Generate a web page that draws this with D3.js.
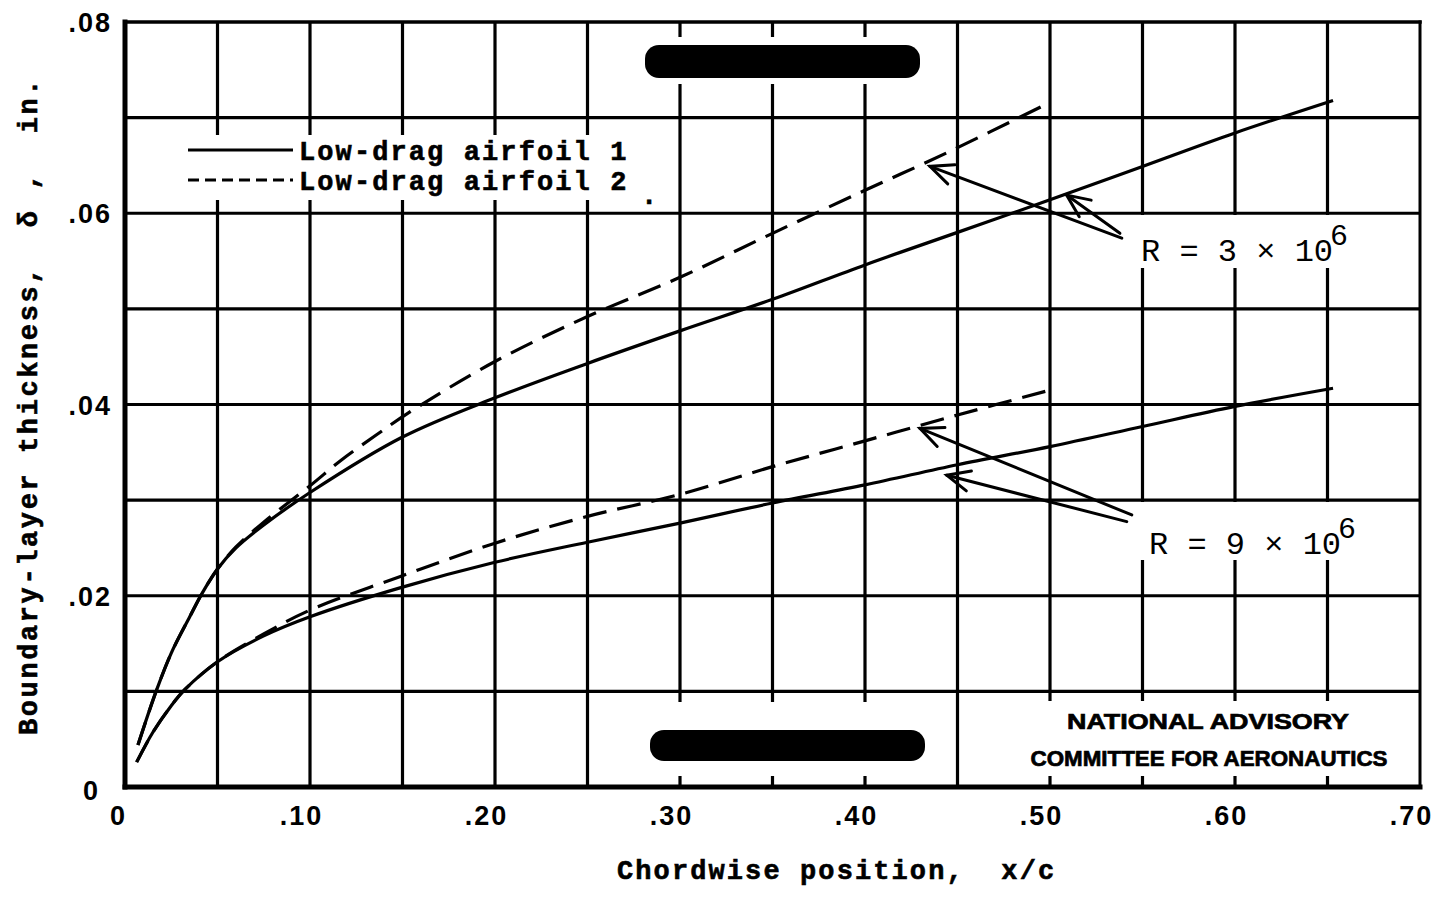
<!DOCTYPE html>
<html>
<head>
<meta charset="utf-8">
<script src="https://cdn.jsdelivr.net/npm/d3@7"></script>
<style>
  html, body { margin: 0; padding: 0; background: #fff; }
  svg { display: block; }
  .mono { font-family: 'Liberation Mono', 'DejaVu Sans Mono', monospace; white-space: pre; }
</style>
</head>
<body>
<script>
// Boundary-layer thickness along the chord for two low-drag airfoils at two Reynolds numbers.

// Axis ticks and labels
const xTicks = [0, 0.1, 0.2, 0.3, 0.4, 0.5, 0.6, 0.7];
const xTickLabels = ["0", ".10", ".20", ".30", ".40", ".50", ".60", ".70"];
const yTicks = [0, 0.02, 0.04, 0.06, 0.08];
const yTickLabels = ["0", ".02", ".04", ".06", ".08"];
const gridX = [0.05, 0.1, 0.15, 0.2, 0.25, 0.3, 0.35, 0.4, 0.45, 0.5, 0.55, 0.6, 0.65];
const gridY = [0.01, 0.02, 0.03, 0.04, 0.05, 0.06, 0.07];

// Airfoil 1, R = 3 x 10^6 (solid)
const xA1R3 = [0.007, 0.017, 0.025, 0.035, 0.0415, 0.05, 0.06, 0.075, 0.1, 0.15, 0.2, 0.25, 0.3, 0.35, 0.4, 0.45, 0.5, 0.55, 0.6, 0.653];
const yA1R3 = [0.0044, 0.0101, 0.0140, 0.0178, 0.0202, 0.0228, 0.0250, 0.0274, 0.0308, 0.0366, 0.0407, 0.0443, 0.0477, 0.0510, 0.0546, 0.0580, 0.0614, 0.0649, 0.0684, 0.0718];
// Airfoil 2, R = 3 x 10^6 (dashed)
const xA2R3 = [0.007, 0.017, 0.025, 0.035, 0.0415, 0.05, 0.06, 0.075, 0.1, 0.117, 0.135, 0.153, 0.2, 0.25, 0.3, 0.35, 0.4, 0.444, 0.5];
const yA2R3 = [0.0044, 0.0101, 0.0140, 0.0178, 0.0202, 0.0228, 0.0251, 0.0277, 0.0315, 0.0342, 0.0367, 0.0391, 0.0445, 0.0492, 0.0533, 0.0579, 0.0624, 0.0663, 0.0716];
// Airfoil 1, R = 9 x 10^6 (solid)
const xA1R9 = [0.0063, 0.015, 0.025, 0.0324, 0.05, 0.075, 0.1, 0.15, 0.2, 0.25, 0.3, 0.35, 0.4, 0.45, 0.5, 0.55, 0.6, 0.653];
const yA1R9 = [0.0026, 0.0057, 0.0085, 0.0102, 0.0131, 0.0158, 0.0178, 0.0209, 0.0235, 0.0256, 0.0276, 0.0297, 0.0316, 0.0337, 0.0356, 0.0377, 0.0398, 0.0417];
// Airfoil 2, R = 9 x 10^6 (dashed)
const xA2R9 = [0.0063, 0.015, 0.025, 0.0324, 0.05, 0.075, 0.1, 0.15, 0.2, 0.25, 0.3, 0.35, 0.4, 0.45, 0.5];
const yA2R9 = [0.0026, 0.0057, 0.0085, 0.0102, 0.0131, 0.0160, 0.0185, 0.0221, 0.0255, 0.0283, 0.0306, 0.0335, 0.0362, 0.0389, 0.0415];

// Leader arrows from the Reynolds-number notes to the curves (data units)
const arrowFrom = [[0.5388, 0.0574], [0.5378, 0.0579], [0.5442, 0.02845], [0.5415, 0.02775]];
const arrowTo   = [[0.4351, 0.0649], [0.5090, 0.0619], [0.4297, 0.0375], [0.4442, 0.0326]];

const W = 1437, H = 898;
const svg = d3.select("body").append("svg").attr("width", W).attr("height", H);
svg.append("rect").attr("width", W).attr("height", H).attr("fill", "#fff");

const x = d3.scaleLinear().domain([0, 0.7]).range([125, 1420]);
const y = d3.scaleLinear().domain([0, 0.08]).range([787, 22]);

// Grid
const grid = svg.append("g").attr("stroke", "#000").attr("stroke-width", 3.2);
grid.selectAll("line.v").data(gridX).join("line").attr("class", "v")
  .attr("x1", d => x(d)).attr("x2", d => x(d)).attr("y1", y(0.08)).attr("y2", y(0));
grid.selectAll("line.h").data(gridY).join("line").attr("class", "h")
  .attr("x1", x(0)).attr("x2", x(0.7)).attr("y1", d => y(d)).attr("y2", d => y(d));

// Clear areas around the legend, notes and stamps
const clears = [
  [170, 135, 470, 65],
  [1135, 215, 215, 53],
  [1135, 502, 230, 58],
  [1018, 701, 388, 75],
  [630, 37, 305, 47],
  [630, 702, 305, 74]
];
svg.append("g").selectAll("rect").data(clears).join("rect")
  .attr("x", d => d[0]).attr("y", d => d[1]).attr("width", d => d[2]).attr("height", d => d[3])
  .attr("fill", "#fff");

// Frame
const frame = svg.append("g").attr("stroke", "#000").attr("stroke-linecap", "square");
frame.append("line").attr("x1", x(0)).attr("x2", x(0.7)).attr("y1", y(0.08)).attr("y2", y(0.08)).attr("stroke-width", 3.5);
frame.append("line").attr("x1", x(0.7)).attr("x2", x(0.7)).attr("y1", y(0.08)).attr("y2", y(0)).attr("stroke-width", 3);
frame.append("line").attr("x1", x(0)).attr("x2", x(0)).attr("y1", y(0.08)).attr("y2", y(0)).attr("stroke-width", 5);
frame.append("line").attr("x1", x(0)).attr("x2", x(0.7)).attr("y1", y(0)).attr("y2", y(0)).attr("stroke-width", 5);

// Curves
const line = d3.line().x(d => x(d[0])).y(d => y(d[1])).curve(d3.curveCatmullRom.alpha(0.5));
const series = [
  { xs: xA1R3, ys: yA1R3, dash: null },
  { xs: xA1R9, ys: yA1R9, dash: null },
  { xs: xA2R3, ys: yA2R3, dash: "24,11" },
  { xs: xA2R9, ys: yA2R9, dash: "24,11" }
];
svg.append("g").selectAll("path").data(series).join("path")
  .attr("d", s => line(s.xs.map((v, i) => [v, s.ys[i]])))
  .attr("fill", "none").attr("stroke", "#000").attr("stroke-width", 3.2)
  .attr("stroke-dasharray", s => s.dash);

// Arrows
const ag = svg.append("g").attr("stroke", "#000").attr("stroke-width", 3).attr("fill", "none").attr("stroke-linecap", "round");
arrowFrom.forEach((f, i) => {
  const t = arrowTo[i];
  const x1 = x(f[0]), y1 = y(f[1]), x2 = x(t[0]), y2 = y(t[1]);
  ag.append("line").attr("x1", x1).attr("y1", y1).attr("x2", x2).attr("y2", y2);
  const ang = Math.atan2(y1 - y2, x1 - x2);
  const L = 25, spread = 0.42;
  const p = a => [x2 + L * Math.cos(a), y2 + L * Math.sin(a)];
  const b1 = p(ang - spread), b2 = p(ang + spread);
  ag.append("path").attr("d", `M${b1[0]},${b1[1]}L${x2},${y2}L${b2[0]},${b2[1]}`);
});

// Axes labels
const tickFont = "'Liberation Sans', Arial, sans-serif";
const xAxis = d3.axisBottom(x).tickValues(xTicks).tickFormat((d, i) => xTickLabels[i]).tickSize(0).tickPadding(19);
const gx = svg.append("g").attr("transform", `translate(0,${y(0)})`).call(xAxis);
gx.select(".domain").remove();
gx.selectAll("text").attr("font-family", tickFont)
  .attr("font-size", 27).attr("font-weight", "bold").attr("letter-spacing", 2).attr("fill", "#000")
  .attr("dx", d => d === 0 ? -7 : -9);

const yAxis = d3.axisLeft(y).tickValues(yTicks).tickFormat((d, i) => yTickLabels[i]).tickSize(0).tickPadding(13);
const gy = svg.append("g").attr("transform", `translate(${x(0)},0)`).call(yAxis);
gy.select(".domain").remove();
gy.selectAll("text").attr("font-family", tickFont)
  .attr("font-size", 27).attr("font-weight", "bold").attr("letter-spacing", 2).attr("fill", "#000")
  .attr("dx", d => d === 0 ? -12 : 0).attr("dy", d => d === 0 ? "0.45em" : "0.36em");

// Typewriter texts get a slight outline to match the heavy ribbon impression
const heavy = sel => sel.attr("stroke", "#000").attr("stroke-width", 0.6);

// Axis titles
svg.append("text").attr("class", "mono")
  .attr("transform", "translate(37,735) rotate(-90)")
  .attr("font-size", 27).attr("font-weight", "bold").attr("letter-spacing", 2.6)
  .text("Boundary-layer thickness,  \u03b4 ,  in.").call(heavy);
svg.append("text").attr("class", "mono")
  .attr("x", 617).attr("y", 879)
  .attr("font-size", 27).attr("font-weight", "bold").attr("letter-spacing", 2.1)
  .text("Chordwise position,  x/c").call(heavy);

// Legend
const lg = svg.append("g");
lg.append("line").attr("x1", 188).attr("x2", 293).attr("y1", 150).attr("y2", 150)
  .attr("stroke", "#000").attr("stroke-width", 3);
lg.append("line").attr("x1", 188).attr("x2", 293).attr("y1", 180).attr("y2", 180)
  .attr("stroke", "#000").attr("stroke-width", 3.2).attr("stroke-dasharray", "11,6");
lg.append("text").attr("class", "mono").attr("x", 299).attr("y", 160)
  .attr("font-size", 27).attr("font-weight", "bold").attr("letter-spacing", 2.1).text("Low-drag airfoil 1").call(heavy);
lg.append("text").attr("class", "mono").attr("x", 299).attr("y", 190)
  .attr("font-size", 27).attr("font-weight", "bold").attr("letter-spacing", 2.1).text("Low-drag airfoil 2").call(heavy);
lg.append("text").attr("class", "mono").attr("x", 641).attr("y", 204)
  .attr("font-size", 27).attr("font-weight", "bold").text(".").call(heavy);

// Reynolds-number notes
function rLabel(px, py, digit) {
  const t = svg.append("text").attr("class", "mono").attr("x", px).attr("y", py)
    .attr("font-size", 32).attr("letter-spacing", 0);
  t.append("tspan").text(`R = ${digit} \u00d7 10`);
  t.append("tspan").attr("dx", -3).attr("dy", -16).attr("font-size", 30).text("6");
}
rLabel(1141, 261, "3");
rLabel(1149, 554, "9");

// Agency credit
const naca = svg.append("g").attr("font-family", "'Liberation Sans', Arial, sans-serif")
  .attr("font-weight", "bold").attr("text-anchor", "middle").attr("fill", "#000")
  .attr("stroke", "#000").attr("stroke-width", 0.7);
naca.append("text").attr("x", 1208).attr("y", 729).attr("font-size", 22)
  .attr("textLength", 282).attr("lengthAdjust", "spacingAndGlyphs").text("NATIONAL ADVISORY");
naca.append("text").attr("x", 1209).attr("y", 766).attr("font-size", 22)
  .attr("textLength", 357).attr("lengthAdjust", "spacingAndGlyphs").text("COMMITTEE FOR AERONAUTICS");

// Blacked-out stamps
const stamps = [[645, 45, 275, 33], [650, 730, 275, 31]];
svg.append("g").selectAll("rect").data(stamps).join("rect")
  .attr("x", d => d[0]).attr("y", d => d[1]).attr("width", d => d[2]).attr("height", d => d[3])
  .attr("rx", 14).attr("ry", 14).attr("fill", "#000");
</script>
</body>
</html>
